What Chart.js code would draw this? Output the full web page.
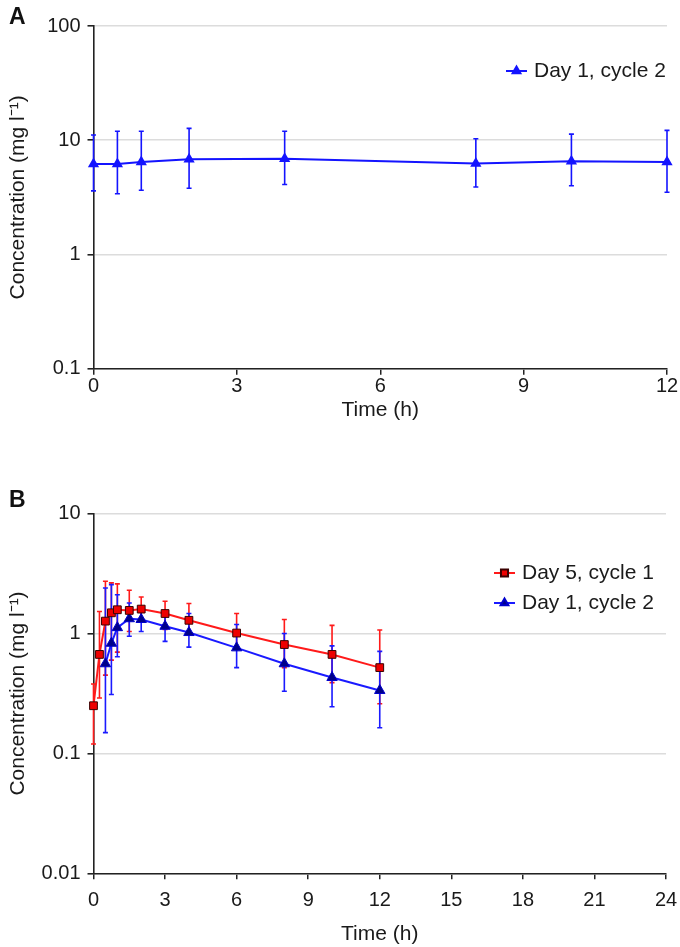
<!DOCTYPE html>
<html>
<head>
<meta charset="utf-8">
<script src="https://cdn.jsdelivr.net/npm/chart.js@4.4.1/dist/chart.umd.min.js"></script>
<style>
  body { margin: 0; background: #fff; }
  #wrap { position: relative; width: 680px; height: 947px; overflow: hidden; }
  canvas { position: absolute; left: 0; }
  .panel { position: absolute; font: bold 23px "Liberation Sans", Arial, sans-serif; color: #111; }
</style>
</head>
<body>
<div id="wrap">
  <canvas id="chartA" width="680" height="440" style="top:0"></canvas>
  <canvas id="chartB" width="680" height="477" style="top:470px"></canvas>
  <div class="panel" style="left:9px; top:3px">A</div>
  <div class="panel" style="left:9px; top:486px">B</div>
</div>
<script>
// panel A: day 1, cycle 2
var timeA = [0, 0.5, 1, 2, 4, 8, 10, 12];
var meanA = [6.2, 6.2, 6.45, 6.8, 6.9, 6.25, 6.55, 6.45];
var upperA = [11.1, 12, 12, 12.7, 12, 10.3, 11.3, 12.2];
var lowerA = [3.6, 3.4, 3.65, 3.8, 4.1, 3.9, 4.0, 3.5];

// panel B: day 5, cycle 1 (red)
var timeB1 = [0, 0.25, 0.5, 0.75, 1, 1.5, 2, 3, 4, 6, 8, 10, 12];
var meanB1 = [0.25, 0.67, 1.27, 1.49, 1.58, 1.56, 1.6, 1.47, 1.29, 1.01, 0.81, 0.67, 0.52];
var upperB1 = [0.38, 1.53, 2.73, 2.65, 2.6, 2.3, 2.02, 1.86, 1.78, 1.47, 1.31, 1.17, 1.07];
var lowerB1 = [0.12, 0.29, 0.45, 0.6, 0.7, 1.04, 1.25, 1.08, 0.98, 0.74, 0.52, 0.39, 0.26];

// panel B: day 1, cycle 2 (blue)
var timeB2 = [0.5, 0.75, 1, 1.5, 2, 3, 4, 6, 8, 10, 12];
var meanB2 = [0.56, 0.83, 1.12, 1.33, 1.31, 1.15, 1.02, 0.76, 0.56, 0.43, 0.335];
var upperB2 = [2.4, 2.56, 2.11, 1.8, 1.6, 1.5, 1.47, 1.19, 1.0, 0.79, 0.71];
var lowerB2 = [0.149, 0.31, 0.64, 0.95, 1.04, 0.86, 0.77, 0.52, 0.33, 0.245, 0.164];

var yTicksA = [0.1, 1, 10, 100];
var yTicksB = [0.01, 0.1, 1, 10];

var yTitle = "Concentration (mg l\u207B\u00B9)";
var xTitle = "Time (h)";

Chart.defaults.font.family = '"Liberation Sans", Arial, sans-serif';
Chart.defaults.font.size = 20;
Chart.defaults.color = "#1a1a1a";

function points(xs, ys) {
  return xs.map(function (t, i) { return { x: t, y: ys[i] }; });
}

// vertical error bars, drawn under all lines and markers
var errorBars = {
  id: "errorBars",
  beforeDatasetsDraw: function (chart) {
    var ctx = chart.ctx;
    var xs = chart.scales.x, ys = chart.scales.y;
    chart.data.datasets.forEach(function (ds) {
      ctx.save();
      ctx.strokeStyle = ds.borderColor;
      ctx.lineWidth = 1.6;
      ds.data.forEach(function (p, i) {
        var px = xs.getPixelForValue(p.x);
        var top = ys.getPixelForValue(ds.upper[i]);
        var bot = ys.getPixelForValue(ds.lower[i]);
        ctx.beginPath();
        ctx.moveTo(px, top); ctx.lineTo(px, bot);
        ctx.moveTo(px - 2.5, top); ctx.lineTo(px + 2.5, top);
        ctx.moveTo(px - 2.5, bot); ctx.lineTo(px + 2.5, bot);
        ctx.stroke();
      });
      ctx.restore();
    });
  }
};

// small legend inside the plot: line + marker + label
var lineLegend = {
  id: "lineLegend",
  afterDraw: function (chart, args, opts) {
    var ctx = chart.ctx;
    chart.data.datasets.forEach(function (ds, i) {
      var y = opts.y + i * opts.gap;
      ctx.save();
      ctx.strokeStyle = ds.borderColor;
      ctx.lineWidth = 2;
      ctx.beginPath();
      ctx.moveTo(opts.x, y); ctx.lineTo(opts.x + 21, y);
      ctx.stroke();
      ctx.fillStyle = ds.pointBackgroundColor;
      ctx.strokeStyle = ds.pointBorderColor;
      Chart.helpers.drawPoint(ctx, {
        pointStyle: ds.pointStyle, radius: ds.legendRadius, rotation: 0, borderWidth: 1
      }, opts.x + 10.5, y);
      ctx.fillStyle = "#1a1a1a";
      ctx.font = '21px "Liberation Sans", Arial, sans-serif';
      ctx.textBaseline = "middle";
      ctx.fillText(ds.label, opts.x + 28, y);
      ctx.restore();
    });
  }
};

function makeOptions(cfg) {
  return {
    responsive: false,
    animation: false,
    layout: { padding: { top: cfg.top, right: cfg.right, left: 0, bottom: 0 } },
    plugins: {
      legend: { display: false },
      tooltip: { enabled: false },
      lineLegend: cfg.legend
    },
    scales: {
      x: {
        type: "linear",
        min: 0, max: cfg.xMax,
        ticks: { stepSize: 3, padding: cfg.xPad, color: "#1a1a1a" },
        grid: { drawOnChartArea: false, color: "#222", tickLength: 6, lineWidth: 1.5 },
        border: { color: "#222", width: 1.6 },
        title: { display: true, text: xTitle, font: { size: 21 }, padding: { top: 0, bottom: cfg.xTitlePad } },
        afterFit: function (s) {
          s.height = cfg.xHeight;
          // the layout padding already leaves room for the end labels
          s.paddingLeft = 0;
          s.paddingRight = 0;
        }
      },
      y: {
        type: "logarithmic",
        min: cfg.yTicks[0], max: cfg.yTicks[cfg.yTicks.length - 1],
        afterBuildTicks: function (axis) {
          axis.ticks = cfg.yTicks.map(function (v) { return { value: v }; });
        },
        ticks: {
          padding: 7,
          color: "#1a1a1a",
          callback: function (v) { return String(v); }
        },
        grid: { color: "#dcdcdc", lineWidth: 1.6, tickColor: "#222", tickLength: 6 },
        border: { color: "#222", width: 1.6 },
        title: { display: true, text: yTitle, font: { size: 21 }, padding: { top: 6, bottom: 0 } },
        afterFit: function (s) { s.width = 93.5; }
      }
    }
  };
}

new Chart(document.getElementById("chartA"), {
  type: "line",
  data: {
    datasets: [{
      label: "Day 1, cycle 2",
      data: points(timeA, meanA),
      upper: upperA, lower: lowerA,
      borderColor: "#1414ff",
      borderWidth: 2,
      pointStyle: "triangle",
      pointRadius: 4.5,
      legendRadius: 4.5,
      pointBackgroundColor: "#1414ff",
      pointBorderColor: "#1414ff",
      clip: false
    }]
  },
  options: makeOptions({
    top: 26, right: 13, xMax: 12, xPad: 0, xTitlePad: 17, xHeight: 71.3,
    yTicks: yTicksA, legend: { x: 506, y: 71, gap: 30 }
  }),
  plugins: [errorBars, lineLegend]
});

new Chart(document.getElementById("chartB"), {
  type: "line",
  data: {
    datasets: [{
      label: "Day 5, cycle 1",
      data: points(timeB1, meanB1),
      upper: upperB1, lower: lowerB1,
      borderColor: "#ff1a1a",
      borderWidth: 2,
      pointStyle: "rect",
      pointRadius: 5.5,
      legendRadius: 5,
      pointBackgroundColor: "#ee0000",
      pointBorderColor: "#3a0000",
      pointBorderWidth: 1,
      clip: false
    }, {
      label: "Day 1, cycle 2",
      data: points(timeB2, meanB2),
      upper: upperB2, lower: lowerB2,
      borderColor: "#1a1aff",
      borderWidth: 2,
      pointStyle: "triangle",
      pointRadius: 6,
      legendRadius: 4.5,
      pointBackgroundColor: "#00008a",
      pointBorderColor: "#0000cc",
      pointBorderWidth: 1,
      clip: false
    }]
  },
  options: makeOptions({
    top: 43.7, right: 14, xMax: 24, xPad: 9, xTitlePad: 0, xHeight: 73.7,
    yTicks: yTicksB, legend: { x: 494, y: 103, gap: 30 }
  }),
  plugins: [errorBars, lineLegend]
});
</script>
</body>
</html>
